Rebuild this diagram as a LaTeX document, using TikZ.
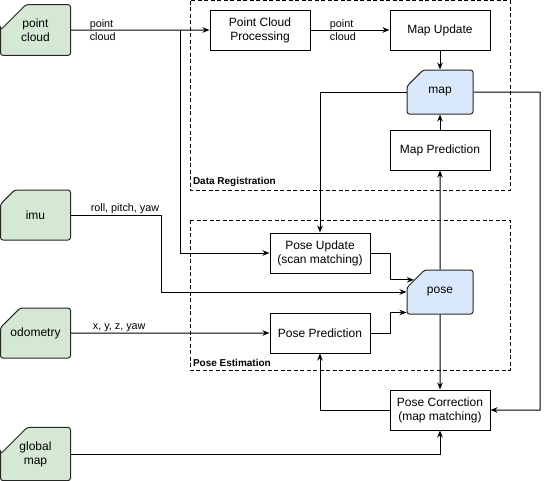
\documentclass[tikz,border=0pt]{standalone}
\usepackage{fontspec}
\setmainfont{Liberation Sans}
\usetikzlibrary{arrows.meta,shapes.misc,calc}
\definecolor{sensorgreen}{HTML}{D5E8D4}
\definecolor{stateblue}{HTML}{DAE8FC}

\begin{document}
\begin{tikzpicture}[x=1pt,y=-1pt,>={Stealth[length=7pt,width=5.5pt,inset=2.2pt]},
    line width=1pt,font=\fontsize{12}{14}\selectfont,
    procbox/.style={draw,fill=white,minimum width=100pt,minimum height=40pt,align=center,inner sep=1pt},
    card/.style={draw=black!85,chamfered rectangle,chamfered rectangle corners=north west,
      chamfered rectangle xsep=14pt,chamfered rectangle ysep=14pt,rounded corners=2.5pt,
      inner sep=0pt,align=center},
    sensor/.style={card,fill=sensorgreen,minimum width=70pt,minimum height=50pt},
    state/.style={card,fill=stateblue,minimum width=66pt,minimum height=44pt},
    edgelbl/.style={font=\fontsize{10.8}{13}\selectfont,inner sep=1pt,align=left},
    grpbox/.style={dash pattern=on 4pt off 2.5pt},
    grplbl/.style={font=\bfseries\fontsize{10}{12}\selectfont,anchor=south west,inner sep=2.5pt}]
  \useasboundingbox (0,0) rectangle (549,480);
  % sensors
  \node[sensor] (pc)   at (35.5,30)  {point\\cloud};
  \node[sensor] (imu)  at (35.5,215) {imu};
  \node[sensor] (odo)  at (35.5,333) {odometry};
  \node[sensor] (gmap) at (35.5,454) {global\\map};
  % groups
  \draw[grpbox] (190,0.5) rectangle (510,190);
  \node[grplbl] (drlbl) at (190,190) {Data Registration};
  \draw[grpbox] (190,220) rectangle (510,370);
  \node[grplbl] (pelbl) at (190,370) {Pose Estimation};
  % data registration
  \node[procbox] (pcp)   at (260,30)  {Point Cloud\\Processing};
  \node[procbox] (mu)    at (440,30)  {Map Update};
  \node[state]   (map)   at (440,92)  {map};
  \node[procbox] (mpred) at (440,150) {Map Prediction};
  % pose estimation
  \node[procbox] (pu)    at (320,253) {Pose Update\\(scan matching)};
  \node[procbox] (pp)    at (320,333) {Pose Prediction};
  \node[state]   (pose)  at (440,292) {pose};
  \node[procbox] (pcor)  at (440,410) {Pose Correction\\(map matching)};
  % connectors
  \coordinate (split)  at (180,30);
  \coordinate (mapout) at (540,92);
  \draw[->] (pc) -- node[edgelbl,pos=0.125,anchor=west] {point\\cloud} (pcp);
  \draw[->] (split) |- (pu);
  \draw[->] (pcp) -- node[edgelbl,pos=0.41] {point\\cloud} (mu);
  \draw[->] (mu) -- (map);
  \draw[->] (mpred) -- (map);
  \draw[->] (pose) -- (mpred);
  \draw[->] (map) -| (pu);
  \draw[->] (map) -- (mapout) |- (pcor);
  \draw[->] (imu.east) -- node[edgelbl,pos=0.6,above] {roll, pitch, yaw} ++(90,0) |- (pose);
  \draw[->] (pu.east) -- ++(20,0) |- (pose.155);
  \draw[->] (odo) -- node[edgelbl,pos=0.243,above] {x, y, z, yaw} (pp);
  \draw[->] (pp.east) -- ++(20,0) |- ([yshift=2pt]pose.south west);
  \draw[->] (pose) -- (pcor);
  \draw[->] (pcor) -| (pp);
  \draw[->] (gmap) -| (pcor);
\end{tikzpicture}
\end{document}
